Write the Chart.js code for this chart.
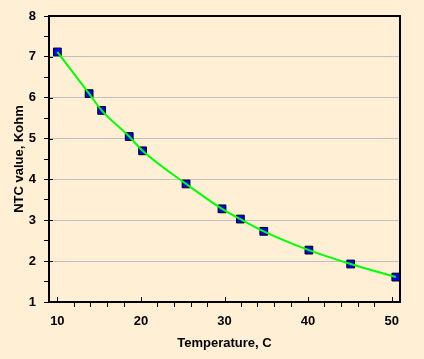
<!DOCTYPE html>
<html>
<head>
<meta charset="utf-8">
<script src="https://cdn.jsdelivr.net/npm/chart.js@4"></script>
<style>
  html, body { margin: 0; padding: 0; background: #FFEFD5; }
  #wrap { width: 424px; height: 359px; }
</style>
</head>
<body>
<div id="wrap"><canvas id="ntcChart"></canvas></div>
<script>
// measured NTC curve
const temperatures = [10, 13.8, 15.3, 18.6, 20.2, 25.4, 29.7, 31.9, 34.7, 40.1, 45.1, 50.5];
const ntcValues = [7.12, 6.10, 5.69, 5.05, 4.70, 3.89, 3.28, 3.03, 2.73, 2.27, 1.93, 1.61];
const xMajorTicks = [10, 20, 30, 40, 50];
const yMajorTicks = [1, 2, 3, 4, 5, 6, 7, 8];

const points = temperatures.map((t, i) => ({ x: t, y: ntcValues[i] }));
const labelFont = { family: 'Liberation Sans', size: 13, weight: 'bold' };

// frame on top/right plus the little major tick marks
const frameTicks = {
    id: 'frameTicks',
    afterDraw(chart) {
        const { ctx, chartArea: a, scales } = chart;
        ctx.save();
        ctx.strokeStyle = '#000';
        ctx.lineWidth = 2;
        ctx.beginPath();
        ctx.moveTo(a.left, a.top);
        ctx.lineTo(a.right, a.top);
        ctx.lineTo(a.right, a.bottom);
        ctx.stroke();
        ctx.lineWidth = 1;
        ctx.beginPath();
        xMajorTicks.forEach(v => {
            const px = Math.round(scales.x.getPixelForValue(v)) + 0.5;
            ctx.moveTo(px, a.bottom);
            ctx.lineTo(px, a.bottom - 5);
        });
        yMajorTicks.forEach(v => {
            const py = Math.round(scales.y.getPixelForValue(v)) + 0.5;
            ctx.moveTo(a.left, py);
            ctx.lineTo(a.left + 4, py);
        });
        ctx.stroke();
        ctx.restore();
    }
};

new Chart(document.getElementById('ntcChart'), {
    type: 'scatter',
    data: {
        datasets: [{
            type: 'line',
            data: points,
            borderColor: '#00FF00',
            borderWidth: 2,
            cubicInterpolationMode: 'monotone',
            pointRadius: 0,
            order: 0
        }, {
            data: points,
            pointStyle: 'rect',
            pointRadius: 5.5,
            backgroundColor: '#0000FF',
            borderColor: '#000',
            borderWidth: 1,
            order: 1
        }]
    },
    options: {
        responsive: true,
        maintainAspectRatio: false,
        animation: false,
        layout: { padding: { left: 0, right: 24, top: 16, bottom: 0 } },
        plugins: {
            legend: { display: false },
            tooltip: { enabled: false }
        },
        scales: {
            x: {
                type: 'linear',
                min: 9,
                max: 51,
                afterBuildTicks: s => {
                    const t = [];
                    for (let v = 10; v <= 50; v += 2) t.push({ value: v });
                    s.ticks = t;
                },
                afterFit: s => { s.height = 57; },
                ticks: {
                    color: '#000',
                    font: labelFont,
                    padding: 7,
                    maxRotation: 0,
                    autoSkip: false,
                    callback: v => xMajorTicks.includes(v) ? v : ''
                },
                grid: {
                    drawOnChartArea: false,
                    tickLength: 5,
                    tickColor: c => xMajorTicks.includes(c.tick.value) ? 'rgba(0,0,0,0)' : '#000'
                },
                border: { color: '#000', width: 2 },
                title: {
                    display: true,
                    text: 'Temperature, C',
                    color: '#000',
                    font: labelFont,
                    padding: { top: 0, bottom: 8 }
                }
            },
            y: {
                min: 1,
                max: 8,
                afterBuildTicks: s => {
                    const t = [];
                    for (let v = 1; v <= 8; v += 0.5) t.push({ value: v });
                    s.ticks = t;
                },
                afterFit: s => { s.width = 49; },
                ticks: {
                    color: '#000',
                    font: labelFont,
                    padding: 8,
                    autoSkip: false,
                    callback: v => yMajorTicks.includes(v) ? v : ''
                },
                grid: {
                    tickLength: 5,
                    tickColor: '#000',
                    color: c => yMajorTicks.includes(c.tick.value) ? '#C0C0C0' : 'rgba(0,0,0,0)'
                },
                border: { color: '#000', width: 2 },
                title: {
                    display: true,
                    text: 'NTC value, Kohm',
                    color: '#000',
                    font: labelFont,
                    padding: { top: 12, bottom: 0 }
                }
            }
        }
    },
    plugins: [frameTicks]
});
</script>
</body>
</html>
